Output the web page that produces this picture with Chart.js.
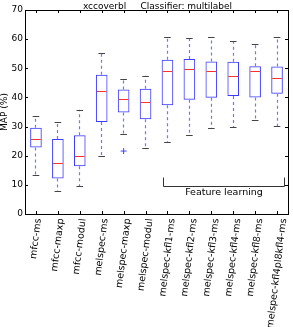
<!DOCTYPE html>
<html>
<head>
<meta charset="utf-8">
<script src="https://cdn.jsdelivr.net/npm/chart.js@4"></script>
<style>
  html, body { margin: 0; padding: 0; background: #fff; }
</style>
</head>
<body>
<canvas id="boxchart" width="293" height="327"></canvas>
<script>
const categories = [
  "mfcc-ms", "mfcc-maxp", "mfcc-modul", "melspec-ms", "melspec-maxp", "melspec-modul",
  "melspec-kfl1-ms", "melspec-kfl2-ms", "melspec-kfl3-ms", "melspec-kfl4-ms",
  "melspec-kfl8-ms", "melspec-kfl4pl8kfl4-ms"
];
const whiskerLow  = [13.5, 7.9, 9.6, 19.8, 27.6, 22.8, 24.6, 27.2, 29.5, 29.7, 32.2, 30.1];
const q1          = [22.8, 12.2, 16.4, 31.6, 34.8, 32.5, 37.3, 39.2, 39.9, 40.5, 40.0, 41.3];
const medians     = [25.7, 17.6, 19.8, 42.3, 39.4, 38.3, 48.9, 49.6, 49.2, 47.4, 49.0, 46.8];
const q3          = [29.6, 25.7, 27.0, 47.8, 42.7, 43.0, 52.9, 53.2, 52.3, 52.2, 50.7, 50.6];
const whiskerHigh = [33.6, 31.7, 35.8, 55.1, 46.3, 47.4, 60.9, 60.4, 60.7, 59.4, 58.4, 60.6];
const outliers    = [null, null, null, null, 21.6, null, null, null, null, null, null, null];
const yTicks = [0, 10, 20, 30, 40, 50, 60, 70];

const titleText = "xccoverbl     Classifier: multilabel";
const bracketText = "Feature learning";
const FONT = "'DejaVu Sans', sans-serif";

function half(v) { return Math.round(v) + 0.5; }

// whiskers, caps, medians, frame, ticks, rotated labels, bracket
const boxExtras = {
  id: "boxExtras",
  afterDatasetsDraw(chart) {
    const ctx = chart.ctx;
    const x = chart.scales.x, y = chart.scales.y;
    const bw = 11.7;
    ctx.save();
    categories.forEach((c, i) => {
      const cx = x.getPixelForValue(i);
      const wx = half(cx - 0.5);
      // whiskers
      ctx.strokeStyle = "#7373ff";
      ctx.lineWidth = 1.2;
      ctx.setLineDash([3, 3]);
      ctx.beginPath();
      ctx.moveTo(wx, y.getPixelForValue(q3[i]));
      ctx.lineTo(wx, y.getPixelForValue(whiskerHigh[i]));
      ctx.moveTo(wx, y.getPixelForValue(q1[i]));
      ctx.lineTo(wx, y.getPixelForValue(whiskerLow[i]));
      ctx.stroke();
      ctx.setLineDash([]);
      // caps
      ctx.strokeStyle = "#444";
      ctx.lineWidth = 1;
      ctx.beginPath();
      [whiskerHigh[i], whiskerLow[i]].forEach(v => {
        const py = half(y.getPixelForValue(v));
        ctx.moveTo(cx - 3.3, py);
        ctx.lineTo(cx + 3.3, py);
      });
      ctx.stroke();
      // median
      ctx.strokeStyle = "#ff3030";
      ctx.beginPath();
      const my = half(y.getPixelForValue(medians[i]));
      ctx.moveTo(cx - bw / 2 + 1, my);
      ctx.lineTo(cx + bw / 2 - 1, my);
      ctx.stroke();
    });
    ctx.restore();
  },
  afterDraw(chart) {
    const ctx = chart.ctx;
    const x = chart.scales.x, y = chart.scales.y;
    const a = chart.chartArea;
    ctx.save();
    // frame
    ctx.strokeStyle = "#000";
    ctx.lineWidth = 1;
    ctx.strokeRect(half(a.left), half(a.top), Math.round(a.right - a.left), Math.round(a.bottom - a.top));
    // inward ticks
    ctx.beginPath();
    yTicks.forEach(v => {
      const py = half(y.getPixelForValue(v));
      ctx.moveTo(a.left, py); ctx.lineTo(a.left + 3, py);
      ctx.moveTo(a.right, py); ctx.lineTo(a.right - 3, py);
    });
    categories.forEach((c, i) => {
      const px = half(x.getPixelForValue(i));
      ctx.moveTo(px, a.bottom); ctx.lineTo(px, a.bottom - 3);
      ctx.moveTo(px, a.top); ctx.lineTo(px, a.top + 3);
    });
    ctx.stroke();

    // title
    ctx.fillStyle = "#000";
    ctx.font = "9px " + FONT;
    ctx.textAlign = "center";
    ctx.textBaseline = "alphabetic";
    ctx.fillText(titleText, (a.left + a.right) / 2 + 1, 8.5);

    // rotated x labels, centred on the tick like matplotlib
    ctx.font = "9.5px " + FONT;
    const th = 83 * Math.PI / 180;
    categories.forEach((lab, i) => {
      const px = x.getPixelForValue(i);
      const w = ctx.measureText(lab).width;
      const h = 9.5;
      const bh = w * Math.sin(th) + h * Math.cos(th);
      ctx.save();
      ctx.translate(px, a.bottom + 4 + bh / 2);
      ctx.rotate(-th);
      ctx.textAlign = "center";
      ctx.textBaseline = "middle";
      ctx.fillText(lab, 0, 0);
      ctx.restore();
    });

    // bracket over the feature learning group
    const bl = half(x.getPixelForValue(5.8));
    const br = half(x.getPixelForValue(11.3));
    const by = half(y.getPixelForValue(9.6));
    const bt = y.getPixelForValue(12.5);
    ctx.strokeStyle = "#333";
    ctx.beginPath();
    ctx.moveTo(bl, bt); ctx.lineTo(bl, by); ctx.lineTo(br, by); ctx.lineTo(br, bt);
    ctx.stroke();
    ctx.font = "9.5px " + FONT;
    ctx.textAlign = "center";
    ctx.textBaseline = "middle";
    ctx.fillStyle = "#000";
    ctx.fillText(bracketText, (bl + br) / 2, y.getPixelForValue(7.5));
    ctx.restore();
  }
};

const ctx = document.getElementById("boxchart").getContext("2d");
const chart = new Chart(ctx, {
  type: "bar",
  data: {
    labels: categories,
    datasets: [
      {
        label: "box",
        data: q1.map((v, i) => [v, q3[i]]),
        backgroundColor: "rgba(0,0,0,0)",
        borderColor: "#3c3cff",
        borderWidth: 1,
        borderSkipped: false,
        categoryPercentage: 1,
        barPercentage: 0.53,
      },
      {
        type: "line",
        label: "fliers",
        data: outliers,
        showLine: false,
        pointStyle: "cross",
        pointRadius: 3,
        borderColor: "#4444ff",
        borderWidth: 1,
      },
    ],
  },
  options: {
    responsive: false,
    animation: false,
    layout: { padding: { top: 10, right: 4, left: 0, bottom: 0 } },
    plugins: {
      legend: { display: false },
      tooltip: { enabled: false },
    },
    scales: {
      x: {
        grid: { display: false, drawTicks: false },
        border: { display: false },
        ticks: { display: false },
        afterFit: (scale) => { scale.height = 113; },
      },
      y: {
        min: 0,
        max: 70,
        grid: { display: false, drawTicks: false },
        border: { display: false },
        ticks: {
          stepSize: 10,
          padding: 2,
          color: "#000",
          font: { family: FONT, size: 9 },
        },
        title: {
          display: true,
          text: "MAP (%)",
          color: "#000",
          padding: 0,
          font: { family: FONT, size: 9, lineHeight: 1 },
        },
        afterFit: (scale) => { scale.width = 25; },
      },
    },
  },
  plugins: [boxExtras],
});
</script>
</body>
</html>
